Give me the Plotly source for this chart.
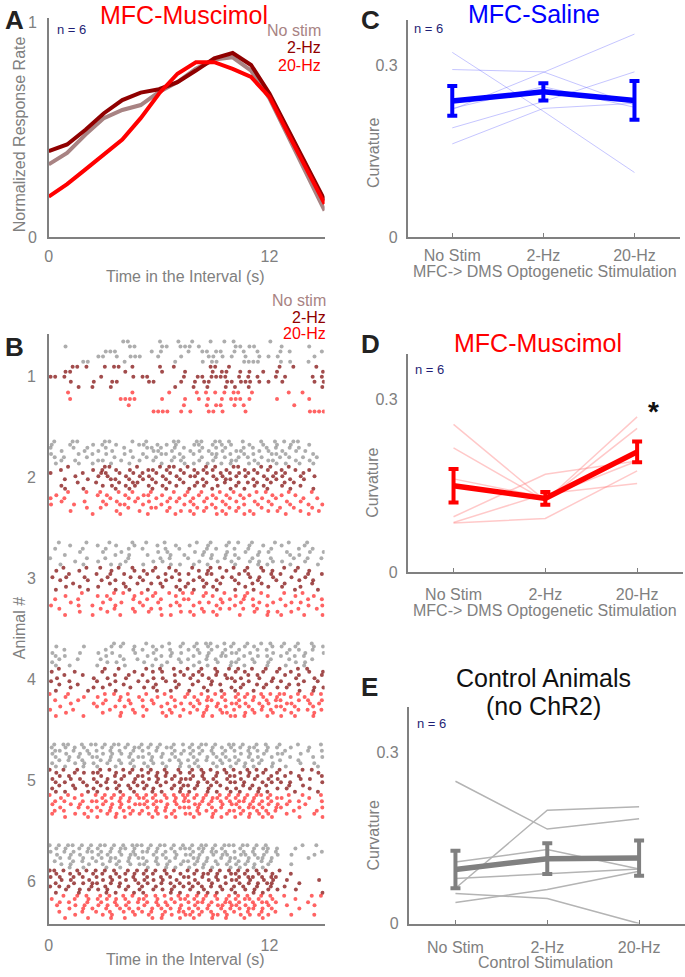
import plotly.graph_objects as go

W, H = 685, 977
FONT = "Liberation Sans, Arial, sans-serif"
GRAY = "#808080"
NAVY = "#1f1f75"

# ---------------- Panel A data ----------------
time_s = list(range(16))
rate_nostim = [0.339, 0.393, 0.478, 0.555, 0.593, 0.616, 0.677, 0.723, 0.785, 0.828, 0.839, 0.777, 0.647, 0.470, 0.293, 0.124]
rate_2hz = [0.401, 0.432, 0.501, 0.578, 0.639, 0.674, 0.690, 0.723, 0.777, 0.834, 0.859, 0.803, 0.670, 0.501, 0.339, 0.171]
rate_20hz = [0.189, 0.247, 0.316, 0.386, 0.455, 0.555, 0.670, 0.762, 0.816, 0.816, 0.785, 0.747, 0.654, 0.485, 0.324, 0.155]

# ---------------- Panel C/D/E data ----------------
conditions = ["No Stim", "2-Hz", "20-Hz"]
saline_mean = [0.238, 0.254, 0.239]
saline_err = [0.026, 0.015, 0.034]
saline_animals = [
    [0.323, 0.220, 0.113],
    [0.293, 0.289, 0.231],
    [0.223, 0.288, 0.355],
    [0.191, 0.237, 0.289],
    [0.163, 0.225, 0.234],
    [0.225, 0.263, 0.227],
]
muscimol_mean = [0.150, 0.128, 0.209]
muscimol_err = [0.029, 0.011, 0.018]
muscimol_animals = [
    [0.257, 0.124, 0.250],
    [0.216, 0.124, 0.270],
    [0.162, 0.130, 0.193],
    [0.096, 0.170, 0.193],
    [0.086, 0.136, 0.154],
    [0.085, 0.093, 0.176],
]
control_mean = [0.095, 0.114, 0.115]
control_err = [0.033, 0.027, 0.031]
control_animals = [
    [0.250, 0.166, 0.184],
    [0.062, 0.199, 0.205],
    [0.079, 0.087, 0.096],
    [0.108, 0.130, 0.096],
    [0.037, 0.060, 0.092],
    [0.053, 0.044, 0.000],
]

# ---------------- Panel B raster data ----------------
# each string = one trial row, 60 bins of 0.25 s (0-15 s); 'o' = response in that bin
BIN_S = 0.25
nostim_trials = [
    [  # animal 1
        "..........|......oo..|....o...o.|.o...o..o.|o.......o.|..........",
        "...o......|.......oo.|....oo..oo|o.o.......|oo.oo.....|o.....o...",
        "..........|..ooo.....|..o.o.....|o..oo.oo..|o.o..o....|o.o......o",
        "..........|oo..o..ooo|...o....o.|....oo.o.o|..o..o.o.o|.......o..",
        ".......oo.|......o...|.......o..|...o.oo...|..oooo....|o.o...o...",
    ],
    [  # animal 2
        ".o...oo...|..oo....o.|.o.....oo.|..oo..oo.o|..o...o..o|.o.oo.....",
        "o...o....o|.o..o....o|o..o.o.o..|.oo..o.o.o|...o..o..o|..o...o...",
        "o....o..o.|..o...o...|.oo.o..o.o|...o..o.o.|..o.o..o.o|..o.o.....",
        "..o....o..|o..o...o..|..oo..o...|o.o.o..o..|oo...o.o..|o..o.o....",
        "o.....o..o|..o...o...|o...oo..o.|.o...oo..o|..o.o...oo|.o.....o..",
        ".o.o....o.|....o...o.|.o.o...o.o|...o..o.o.|.o.o..o...|o.o..o..o.",
        "..o..o....|oo...o...o|..o...o.o.|..o..o...o|o...o..oo.|...o..o...",
        ".o....o..o|...o...o..|....o....o|.o..o..o.o|...o.o...o|.o..o..o..",
    ],
    [  # animal 3
        "..o.....o.|...o....o.|.o...o....|..o..o...o|.o..o....o|..o...o...",
        "....o.....|o...o...o.|...o...o..|o...o...o.|...o..o...|o....o....",
        ".o.....o..|..o....o..|o....o..o.|....o.o...|o..o....o.|....o..o..",
        "......o...|.o...o....|...o.o....|.o.o....o.|..o..o.o..|.o....o..o",
        "...o......|....o..o..|.o....o..o|...o.o..o.|o....o....|..o.o.....",
        "o.......o.|..o....o..|....o.o...|o....o..o.|.o..o...o.|...o..o..o",
        ".....o....|o.....o...|..o.o.....|..o...o..o|...o.o..o.|o....o....",
        "..o....o..|...o.o....|o.....o.o.|.o..o.....|o....o.o..|..o.....o.",
    ],
    [  # animal 4
        "..........|....o.o...|.o....o..o|..o.oo..o.|o..o..o.o.|.o..o..o..",
        ".o.....o..|...o.o..o.|..o.o...o.|.o..o.o..o|..o.o...o.|o..o...o.o",
        "...o......|..o.....o.|o..o..o...|o.o..o..o.|.o...o.o..|..o.o..o..",
        "o.....o...|o..o....o.|..o...o.o.|..o.o..o.o|o..o....o.|.o...o...o",
        ".o.o......|..o..o....|.o..o.o...|.o..o..oo.|..o..o.o..|o..o.o....",
        "..o...o...|.o....o..o|...o....o.|o...o.o...|.o..o...o.|..o....o..",
        "o.........|..o.o.....|o....o..o.|..o...o..o|o...o..o..|...o.o....",
        ".o..o.....|o.....o...|..o.o.....|.o..o....o|..o....o..|.o...o....",
    ],
    [  # animal 5
        ".o.oo..o.o|o.o.oo.o..|o.o.o..o.o|.o.oo.o..o|o.o..o.o..|o...o....o",
        "o..o.o.o..|.o.o..o.oo|.o.o.oo...|o.o..o.o.o|.o.oo..o.o|..o...o...",
        ".oo..o..o.|o..o.o..o.|o..o...o.o|.o.o.o..o.|o..o.o.o..|.o....o..o",
        "o..o..o.o.|.o.o.o.o..|.o..o.o.o.|o.o..o.o..|.o.o..o..o|o...o.....",
        ".o..o.o..o|o..o...o.o|o.o.o..o..|.o..o.o.o.|o..o.o..o.|..o....o.o",
        "..o.o..o..|.o.o.o..o.|..o...o.o.|o.o.o..o.o|.o..o.o...|o...o.....",
        "o....o.o.o|..o..o.o..|o.o.o...o.|.o...o.o..|o.o..o..o.|....o..o..",
        ".o.o...o..|o...o...o.|.o...o..o.|o.o...o..o|..o.o...o.|.o......o.",
    ],
    [  # animal 6
        "o.o.oo.o.o|.oo.o.o.oo|o.o.oo.o.o|.o.oo.o.oo|o.oo.o.o..|.....o..o.",
        ".o.o..o.o.|o..o.oo.o.|.o.o..o.oo|o.oo.o.o..|.o..o.oo.o|...o......",
        "o..o.o..oo|.o.o.o..o.|oo.o.o.o..|.o.o.oo.o.|o.o.o..o.o|.........o",
        ".o..o.o...|o.o..o.oo.|..o.o..o.o|o.o..o.oo.|.oo.o.o..o|..o....o..",
        "..o.o..o.o|.o.oo..o.o|o..o.o.o..|.oo.o..o.o|o..o.oo.o.|......o...",
        ".o...o.o..|o..o.o.o..|.o.o..o..o|o.o.o.o..o|.o.o..o.o.|..........",
        "..o.o...o.|.o..o..o.o|o..o.o..o.|.o.o..o.o.|o.o.o..o..|..o.......",
        "....o..o..|..o..o....|.o...o.o..|o..o.o...o|.o..o.o...|..........",
    ],
]
hz2_trials = [
    [  # animal 1
        ".....oo.o.|..o.oo..o.|....o..o..|.....oo..o|..........|o..o....o.",
        "...oo.....|......o...|....o....o|.....o.oo.|.o.o..o..o|.........o",
        "oo.o......|.o......o.|oo.......o|..oo.oooo.|.o.o.o...o|.o.....o.o",
        "....o....o|...oo.....|.oo.....o.|.o.oo...oo|.ooo.o.o..|o......o.o",
        "......o..o|...o......|.......o..|.o..o...o.|o..o......|.........o",
    ],
    [  # animal 2
        "....o.....|..oo.....o|....o.oo..|o...o.o...|oo....o.o.|..o.......",
        "..o......o|.o..o..o..|.oo..o..o.|.o.o.o..o.|..o.o..o..|o..o..o...",
        "o......o..|.oo..o..o.|o..o..o..o|..o.o..o.o|.o.o.o...o|.o...o....",
        ".....o....|o.o...o..o|.o..o..o..|oo...o.o..|o.o...o.o.|o...o..o..",
        "...o....o.|...oo..o..|o.o..o..o.|...o..o.oo|....o..o.o|..o..o....",
        "......o...|o....o..oo|...o..o..o|..o.o...o.|.o.o.o..o.|.o.o......",
        "..o.......|.o.o..o.o.|.o..o..o..|.o.o..o...|o...o.o...|o...o.....",
        "...o...o..|....o..o..|..o..o....|o....o...o|..o....o..|..o....o..",
    ],
    [  # animal 3
        "...o....o.|.o...o..o.|...o..o...|.o...o.o..|o..o..o...|.o..o.....",
        ".o....o...|...o....o.|o.o....o..|..o.o...o.|..o...o.o.|...o..o...",
        "....o.....|o..o..o...|.o...o..o.|o...oo....|.o.o....o.|o.....o..o",
        "o..o...o..|..o....o.o|...o..o...|..o....o.o|...o.o..o.|..o..o....",
        "..o.....o.|.o..o.....|o....o..o.|.o.o..o...|o....o...o|....o..o..",
        ".....o....|...o..o..o|..o.o.....|o...o..o..|.o..o.o...|.o.....o..",
        "...o..o...|o.....o...|....o..o.o|...o.o....|..o....o..|o...o.....",
        ".o......o.|....o..o..|.o......o.|.o....o...|o...o.....|...o....o.",
    ],
    [  # animal 4
        "..o.......|..o..o....|.o..o..o..|o..o..o..o|.o..o..o..|o...o.o...",
        "o....o....|.o......o.|..o.o...o.|..o...o...|o.o...o..o|..o...o..o",
        "...o...o..|....o..o..|o......o.o|.o.o..o.o.|...o.o....|.o..o....o",
        ".o.......o|..o...o...|..o.o.....|o...o...oo|.o...o..o.|...o...o..",
        "o...o.....|o...o....o|.o...o.o..|..o..o....|o..o....o.|o....o..o.",
        "..o...o...|...o..o...|...o....o.|.o...o.o..|..o..o.o..|..o.o.....",
        "....o....o|.o.....o..|o.o....o..|...o.....o|.o....o..o|.o.....o.o",
        ".o......o.|....o.....|...o..o...|o...o..o..|o...o.....|....o..o..",
    ],
    [  # animal 5
        "o..o..o...|.o.o..o.o.|o.o..o..o.|.o.o.o..o.|o..o.o.o..|o....o.o..",
        ".o...o.o.o|o...o..o..|.o.o.o..o.|o..o..o.o.|.o.o..o..o|..o.....o.",
        "..o.o.....|.o..o.o..o|o..o.o.o..|.o.o..o..o|o..o.o..o.|.o..o....o",
        "o...o.o..o|..o..o..o.|.o.o..o.oo|o..o.o..o.|.o..o..o.o|....o.o...",
        ".o.o...o..|o.o.o...o.|o..o.o..o.|..o.o.o..o|o.o...o.o.|o.o......o",
        "..o..o..o.|.o...o.o.o|.o..o..o.o|o.o..o.o..|..o.o..o..|..o..o....",
        "o....o...o|..o.o..o..|o.o...o.o.|.o..o...o.|o..o.o...o|.o....o...",
        ".o.o....o.|o....o..o.|..o.o...o.|o...o.o..o|.o...o.o..|...o....o.",
    ],
    [  # animal 6
        "oo.o..o.o.|o.o.o..o.o|.o.o.o.o..|o.o..o.o.o|.o.o.o.o..|o.........",
        ".o..o.o..o|.o..o.o.o.|o.o..o..o.|.o.oo.o..o|o.o..o..o.|..o.......",
        "o.o..o.o..|o..o.o..o.|.o..o.o..o|o..o..o.o.|.o.oo.o.oo|..........",
        "..o.o...o.|.o.o..o.o.|o.o.o..o..|.o..o.o..o|o..o..o.o.|.o......o.",
        ".o...o.o.o|o..o.o...o|.o..o.o.o.|o.o..o..o.|.o.o.o.oo.|....o.....",
        "o.o.o....o|..o..o.o..|o..o...o.o|.o.o.o.o..|o.o..o..o.|.o........",
        "...o..o.o.|o.o...o..o|..o.o.o...|o..o...o.o|..o.o..o.o|...o......",
        ".o....o...|..o.o...o.|o.....o.o.|..o.o.o...|o...o.o...|.........o",
    ],
]
hz20_trials = [
    [  # animal 1
        "....o.....|........o.|......o...|..o.o.o.o.|oo..o.....|..o..o....",
        "....o.....|.....oooo.|....o....o|..o.o..o.o|oo.o.....o|......o...",
        "..........|.......o..|.........o|....o.oo..|o.o.......|...o......",
        "..........|..........|..oooo..o.|o...oo.o..|..o.......|......oooo",
    ],
    [  # animal 2
        "....o...o.|.o...o..o.|..o....o..|o..o...o..|o....o.o..|..o....o..",
        ".o........|o.o...o...|oo..o....o|..o..o..o.|.o.o....o.|o..o......",
        "o..o......|...o...o.o|...o..o.o.|.o..o.o..o|..o...o..o|.....o..o.",
        "..o....o..|.o..o...o.|.o...o.o..|o..o...o..|o...o..o..|.o..o.....",
        "o....o....|..o..oo...|o...o....o|.o...o..o.|..o..o..o.|..o...o..o",
        "........o.|.o.....o..|..oo..o...|..o.o.o..o|.o....o...|o..o...o..",
        "....o.....|....o....o|.....o..o.|o..o...o..|o..o...o.o|....o...o.",
        ".........o|.....o....|.o.....o..|.o....o.o.|..o.o.....|.o....o...",
    ],
    [  # animal 3
        ".......o..|....o.o...|o..o..o..o|.o..o...o.|...o..o...|.o...o....",
        "...o......|o.o.....o.|..o....o..|...o.o....|o.o....o..|...o...o..",
        ".o....o...|...o....o.|.o..o....o|o......o.o|..o.o.....|o.....o..o",
        "....o.....|.o...o...o|...o...o..|..o.o..o..|.o...o..o.|..o.o.....",
        "o.....o..o|....o.....|o.....o.o.|.o....o...|o...o..o..|.o....o..o",
        "..o.......|.o..o...o.|..o.o.....|...o...o.o|..o..o....|....o...o.",
        "......o...|..o.....o.|.o......o.|o..o.o....|....o..o.o|..o.......",
        "...o.....o|.....o....|....o.o...|.o....o...|.o.....o..|o....o...o",
    ],
    [  # animal 4
        "o...o.....|..o.o..o..|.o...o....|o..o..o.o.|.o.o..o.o.|oo..o..o.o",
        "...o...o..|o....o...o|...o..o..o|.o..o..o..|o.o.o.o..o|..o..o....",
        ".o....o...|..o..o.o..|o.o....o..|..o.oo..o.|.o..o..o.o|o...o.o..o",
        "....o....o|.o.....o..|..o..o..o.|o.o...o..o|o.o..o.o..|.oo...o.o.",
        "..o.......|o...o.o...|o...o..o..|.o..o.o.o.|.o.o..o..o|o..o...o..",
        "o....o....|...o....o.|.o....o..o|..o.o..o..|o...o.o.o.|.o..o.o..o",
        "...o......|.o...o..o.|....o.o...|o..o...oo.|..o.o...o.|..o....o..",
        ".o.....o..|.....o....|o....o..o.|...o.o...o|o.o....o..|o..o...o..",
    ],
    [  # animal 5
        "o...o..o..|o.o.o.o..o|.o.o.o.o.o|o.o.o..o.o|.o.o.oo.o.|..o..o...o",
        "..o..o....|.o.o.o.o.o|o.o..o.o.o|.o.o.oo.o.|o.o.o..o.o|o.....o...",
        ".o.o...o.o|o.o..o.o..|.o.oo..o.o|o..o.o.o.o|.oo.o.o.o.|..o.o....o",
        "o...o.o...|.o.o.o..oo|o.o..o.o..|.oo.o..o.o|o..o.o.o.o|.o...o....",
        "..o...o.o.|o..o.o.o..|.o.o.o..oo|o.o..o.o..|.o.oo.o..o|o...o....o",
        ".o.o.....o|.o.o..o.o.|o..o.o.o..|..o.o.o..o|o.o..o.o.o|...o....o.",
        "o....o.o..|..o.o..o.o|.o.o..o..o|o.o..o..o.|.o.o.o.o..|.o.....o..",
        "...o....o.|o...o.o...|..o..o.o..|.o...o.o..|o..o..o.o.|....o....o",
    ],
    [  # animal 6
        "...o..o.o.|.o.o..o.o.|.o.o.o..o.|o.o.o.o..o|.o.o..o.o.|.o.....o.o",
        "o....o..o.|o.o.o.o..o|o..o..o.oo|.o.o..o.o.|o.oo.o..o.|...o......",
        "..o.o...o.|.o..o..o.o|.o.o.o.o..|o.oo.o..oo|.o..o.oo.o|......o...",
        ".o...o.o..|o.o.o.o...|o..o.o..o.|.o..o.oo.o|o.o.o..o..|.o.....o..",
        "....o..o.o|..o..o.o.o|..o.o.o.o.|o.o.o..o.o|.o.oo.o.o.|....o.....",
        "..o....o..|o..o..o.o.|o.o..o..oo|.o.o.o..o.|o..o..o..o|..........",
        ".....o....|.o.o....o.|.o..o.o..o|o.o..oo.o.|.o.o.o.o..|..o....o..",
        "...o....o.|...o..o...|..o.o...o.|.o...o..o.|..o...o...|..........",
    ],
]
animal_ticks = [1, 2, 3, 4, 5, 6]
# within-bin display phase per trial row (keeps rows from stacking into columns)
ROW_PHASE = [-0.3, 0.15, -0.1, 0.3, 0.0, -0.2, 0.25, 0.05]


def raster_points(trials, cond_index):
    xs, ys = [], []
    for animal, rows in zip(animal_ticks, trials):
        n = len(rows)
        top = animal - 0.37 + cond_index * 0.25
        for r, row in enumerate(rows):
            s = row.replace("|", "").ljust(60, ".")[:60]
            for c, ch in enumerate(s):
                if ch == "o":
                    xs.append(min(14.95, max(0.05, (c + 0.5 + ROW_PHASE[r % len(ROW_PHASE)]) * BIN_S)))
                    ys.append(top + (r + 0.5) * 0.25 / n)
    return xs, ys


def px(x):
    return x / W


def py(y):
    return 1 - y / H


fig = go.Figure()

# ---- Panel A ----
for vals, col in [(rate_nostim, "#a88383"), (rate_2hz, "#900000"), (rate_20hz, "#ff0000")]:
    fig.add_trace(go.Scatter(x=time_s, y=vals, mode="lines", line=dict(color=col, width=4),
                             xaxis="x", yaxis="y", showlegend=False, hoverinfo="skip"))

# ---- Panel B ----
for trials, ci, col, op in [(nostim_trials, 0, "#8a8a8a", 0.7), (hz2_trials, 1, "#7a0000", 0.7),
                            (hz20_trials, 2, "#ff1010", 0.65)]:
    xs, ys = raster_points(trials, ci)
    fig.add_trace(go.Scatter(x=xs, y=ys, mode="markers",
                             marker=dict(size=4, color=col, opacity=op, line=dict(width=0)),
                             xaxis="x2", yaxis="y2", showlegend=False, hoverinfo="skip"))

# ---- Panels C, D, E ----
xpos = [0, 1, 2]


def add_summary(animals, mean, err, indiv_col, indiv_w, mean_col, xa, ya):
    for a in animals:
        fig.add_trace(go.Scatter(x=xpos, y=a, mode="lines", line=dict(color=indiv_col, width=indiv_w),
                                 xaxis=xa, yaxis=ya, showlegend=False, hoverinfo="skip"))
    fig.add_trace(go.Scatter(x=xpos, y=mean, mode="lines", line=dict(color=mean_col, width=5.5),
                             error_y=dict(type="data", array=err, color=mean_col, thickness=4, width=5),
                             xaxis=xa, yaxis=ya, showlegend=False, hoverinfo="skip"))


add_summary(saline_animals, saline_mean, saline_err, "rgba(90,90,255,0.35)", 1, "#0000ff", "x3", "y3")
add_summary(muscimol_animals, muscimol_mean, muscimol_err, "rgba(255,120,120,0.4)", 1.5, "#ff0000", "x4", "y4")
add_summary(control_animals, control_mean, control_err, "#b4b4b4", 1.5, "#808080", "x5", "y5")

TICK_SIZE = 16


def axis(domain_px, horizontal, rng, tickvals, ticktext=None, anchor=None, standoff=6, ticks=""):
    if horizontal:
        dom = [px(domain_px[0]), px(domain_px[1])]
    else:
        dom = [py(domain_px[1]), py(domain_px[0])]
    d = dict(domain=dom, range=rng, showline=True, linecolor=GRAY, linewidth=1.5,
             showgrid=False, zeroline=False, tickvals=tickvals,
             tickfont=dict(family=FONT, size=TICK_SIZE, color=GRAY), anchor=anchor,
             ticks=ticks, ticklen=4, tickcolor=GRAY, ticklabelstandoff=standoff, fixedrange=True)
    if ticktext is not None:
        d["ticktext"] = ticktext
    return d


layout = dict(
    width=W, height=H, margin=dict(l=0, r=0, t=0, b=0),
    paper_bgcolor="white", plot_bgcolor="white", showlegend=False,
    font=dict(family=FONT, color=GRAY),
    xaxis=axis([45, 322.5], True, [0, 15], [0, 12], anchor="y", standoff=4),
    yaxis=axis([15, 237], False, [0, 1.023], [0, 1], anchor="x", standoff=7),
    xaxis2=axis([45, 322.5], True, [0, 15], [0, 12], anchor="y2", standoff=6),
    yaxis2=axis([335, 932], False, [6.42, 0.58], animal_ticks, anchor="x2", standoff=8),
    xaxis3=axis([406, 680], True, [-0.49, 2.5], xpos, conditions, anchor="y3", standoff=3, ticks="inside"),
    yaxis3=axis([17, 237], False, [0, 0.38], [0, 0.3], ["0", "0.3"], anchor="x3", standoff=5),
    xaxis4=axis([406, 683], True, [-0.5, 2.5], xpos, conditions, anchor="y4", standoff=7, ticks="inside"),
    yaxis4=axis([355, 576], False, [0, 0.38], [0, 0.3], ["0", "0.3"], anchor="x4", standoff=5),
    xaxis5=axis([407, 685], True, [-0.51, 2.5], xpos, conditions, anchor="y5", standoff=8, ticks="inside"),
    yaxis5=axis([713, 932], False, [0, 0.38], [0, 0.3], ["0", "0.3"], anchor="x5", standoff=5),
)

anns = []


def ann(text, x, y, size, color, bold=False, xanchor="center", angle=0):
    t = f"<b>{text}</b>" if bold else text
    anns.append(dict(text=t, x=px(x), y=py(y), xref="paper", yref="paper", showarrow=False,
                     xanchor=xanchor, yanchor="middle", textangle=angle,
                     font=dict(family=FONT, size=size, color=color)))


# panel letters
ann("A", 11, 17, 26, "#222222", bold=True)
ann("B", 11, 348, 26, "#222222", bold=True)
ann("C", 369, 17, 26, "#222222", bold=True)
ann("D", 369, 345, 26, "#222222", bold=True)
ann("E", 368, 692, 26, "#222222", bold=True)

# titles
ann("MFC-Muscimol", 181, 12, 25, "#ff0000")
ann("MFC-Saline", 533, 11, 25, "#0000ff")
ann("MFC-Muscimol", 537, 344, 25, "#ff0000")
ann("Control Animals", 543, 683, 25, "#111111")
ann("(no ChR2)", 543, 712, 25, "#111111")

# n = 6
ann("n = 6", 68, 27, 13, NAVY)
ann("n = 6", 427, 26, 13, NAVY)
ann("n = 6", 428, 371, 13, NAVY)
ann("n = 6", 430, 729, 13, NAVY)

# legends
ann("No stim", 321, 28, 16, "#a88383", xanchor="right")
ann("2-Hz", 321, 45, 16, "#900000", xanchor="right")
ann("20-Hz", 321, 63, 16, "#ff0000", xanchor="right")
ann("No stim", 326, 301, 16, "#a88383", xanchor="right")
ann("2-Hz", 326, 318, 16, "#900000", xanchor="right")
ann("20-Hz", 326, 335, 16, "#ff0000", xanchor="right")

# axis titles
ann("Normalized Response Rate", 15, 133, 16, GRAY, angle=-90)
ann("Time in the Interval (s)", 183, 277, 16, GRAY)
ann("Animal #", 15, 633, 16, GRAY, angle=-90)
ann("Time in the Interval (s)", 183, 968, 16, GRAY)
ann("Curvature", 371, 152, 16, GRAY, angle=-90)
ann("MFC-> DMS Optogenetic Stimulation", 544, 272, 16, GRAY)
ann("Curvature", 370, 486, 16, GRAY, angle=-90)
ann("MFC-> DMS Optogenetic Stimulation", 544, 615, 16, GRAY)
ann("Curvature", 372, 843, 16, GRAY, angle=-90)
ann("Control Stimulation", 545, 971, 16, GRAY)

# significance star
ann("*", 653, 414, 28, "#111111", bold=True)

layout["annotations"] = anns
fig.update_layout(**layout)
fig.write_html(
    "out.html",
    config={"displayModeBar": False, "responsive": False},
    post_script="document.body.style.margin='0px';document.body.style.overflow='hidden';"
                "document.documentElement.style.overflow='hidden';",
)
